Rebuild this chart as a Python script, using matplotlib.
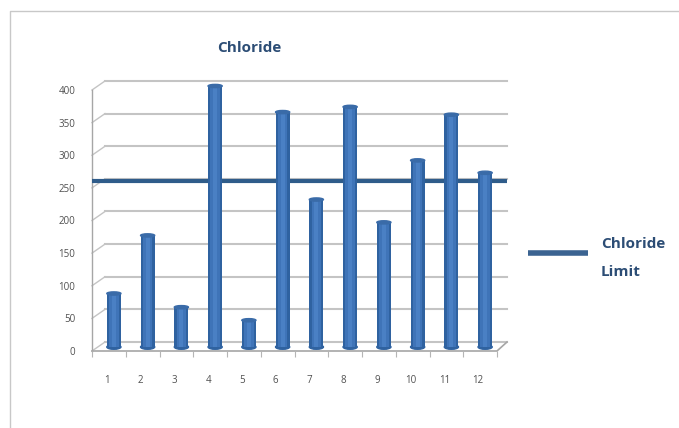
import matplotlib.pyplot as plt
from matplotlib.lines import Line2D
from matplotlib.patches import Ellipse
from matplotlib.transforms import ScaledTranslation

# ====== Data ======
samples = [1, 2, 3, 4, 5, 6, 7, 8, 9, 10, 11, 12]
chloride = [82, 171, 61, 400, 41, 360, 226, 368, 191, 286, 356, 267]
chloride_limit = 260
y_ticks = [0, 50, 100, 150, 200, 250, 300, 350, 400]

W, H = 679, 428
dpi = 100

fig = plt.figure(figsize=(W / dpi, H / dpi), dpi=dpi, facecolor="white")
plt.rcParams["font.family"] = "Open Sans"

# plot area in pixels
left, right, bottom, top = 92, 507, 351, 80
ax = fig.add_axes([left / W, 1 - bottom / H, (right - left) / W, (bottom - top) / H])
px_x = 33.75
px_y = 0.6525
ax.set_xlim(0.5, 0.5 + (right - left) / px_x)
ax.set_ylim(0, (bottom - top) / px_y)
ax.patch.set_visible(False)
for s in ax.spines.values():
    s.set_visible(False)

# depth of the fake 3D box
depth_x = 13 / px_x
depth_y = 9 / px_y
x_end = 0.5 + (right - left) / px_x
grid_col = "#c4c4c4"

# back wall gridlines + slanted connectors on the left
for v in y_ticks:
    ax.plot([0.5 + depth_x, x_end], [v + depth_y, v + depth_y], color=grid_col, lw=1.5, zorder=1, clip_on=False)
    ax.plot([0.5, 0.5 + depth_x], [v, v + depth_y], color=grid_col, lw=1, zorder=1, clip_on=False)
ax.plot([0.5, 0.5], [0, 400], color="#a6a6a6", lw=1, zorder=1, clip_on=False)
ax.plot([0.5, 12.5, x_end], [0, 0, depth_y], color="#a6a6a6", lw=1.2, zorder=1, clip_on=False)

# limit line runs behind the bars
ax.plot([0.5, x_end], [chloride_limit, chloride_limit], color="#2f5c8a", lw=3, zorder=2,
        solid_capstyle="butt", clip_on=False)

# bars sit a little into the box
shift = ax.transData + ScaledTranslation(5 / dpi, 4 / dpi, fig.dpi_scale_trans)
ax.bar(samples, chloride, width=0.42, color="#2f62a0", transform=shift, zorder=3, clip_on=False)
ax.bar(samples, chloride, width=0.28, color="#3f74b8", transform=shift, zorder=4, clip_on=False)
ax.bar(samples, chloride, width=0.12, color="#4a80c4", transform=shift, zorder=5, clip_on=False)
for x, v in zip(samples, chloride):
    ax.add_patch(Ellipse((x, v), 0.42, 5, color="#3a6ba8", transform=shift, zorder=6, clip_on=False))
    ax.add_patch(Ellipse((x, 0), 0.42, 7, color="#2f62a0", transform=shift, zorder=3, clip_on=False))

# ticks
ax.set_xticks(samples)
ax.set_xticks([i + 0.5 for i in range(13)], minor=True)
ax.set_yticks(y_ticks)
ax.tick_params(axis="x", which="major", length=0, pad=17, labelsize=7, labelcolor="#505050")
ax.tick_params(axis="x", which="minor", length=4, width=0.8, color="#b5b5b5")
ax.tick_params(axis="y", length=0, pad=12, labelsize=7, labelcolor="#505050")
nudge = ScaledTranslation(-2 / dpi, 0, fig.dpi_scale_trans)
for lab in ax.get_xticklabels():
    lab.set_transform(lab.get_transform() + nudge)

ax.set_title("Chloride", fontsize=11, fontweight="bold", color="#2c4d75", x=0.378, y=1.0, pad=20)

# legend on the right
handle = Line2D([0], [0], color="#3b6391", lw=4, solid_capstyle="butt")
leg = ax.legend([handle], ["Chloride\nLimit"], loc="center left", frameon=False,
                bbox_to_anchor=((528 - left) / (right - left), 1 - (258 - top) / (bottom - top)),
                handlelength=3.93, handletextpad=0.85, borderpad=0, borderaxespad=0,
                prop={"size": 11, "weight": "bold"}, labelcolor="#2c4d75")
leg.get_texts()[0].set_linespacing(2.2)
# raise the legend line level with the first text row
key = leg.legend_handles[0]
key.set_ydata([y + 3.6 for y in key.get_ydata()])

# thin frame, top and left only
fig.add_artist(Line2D([10 / W, 10 / W, 1], [0, 1 - 11 / H, 1 - 11 / H], color="#c8c8c8", lw=1))

fig.savefig("out.png", dpi=dpi)
